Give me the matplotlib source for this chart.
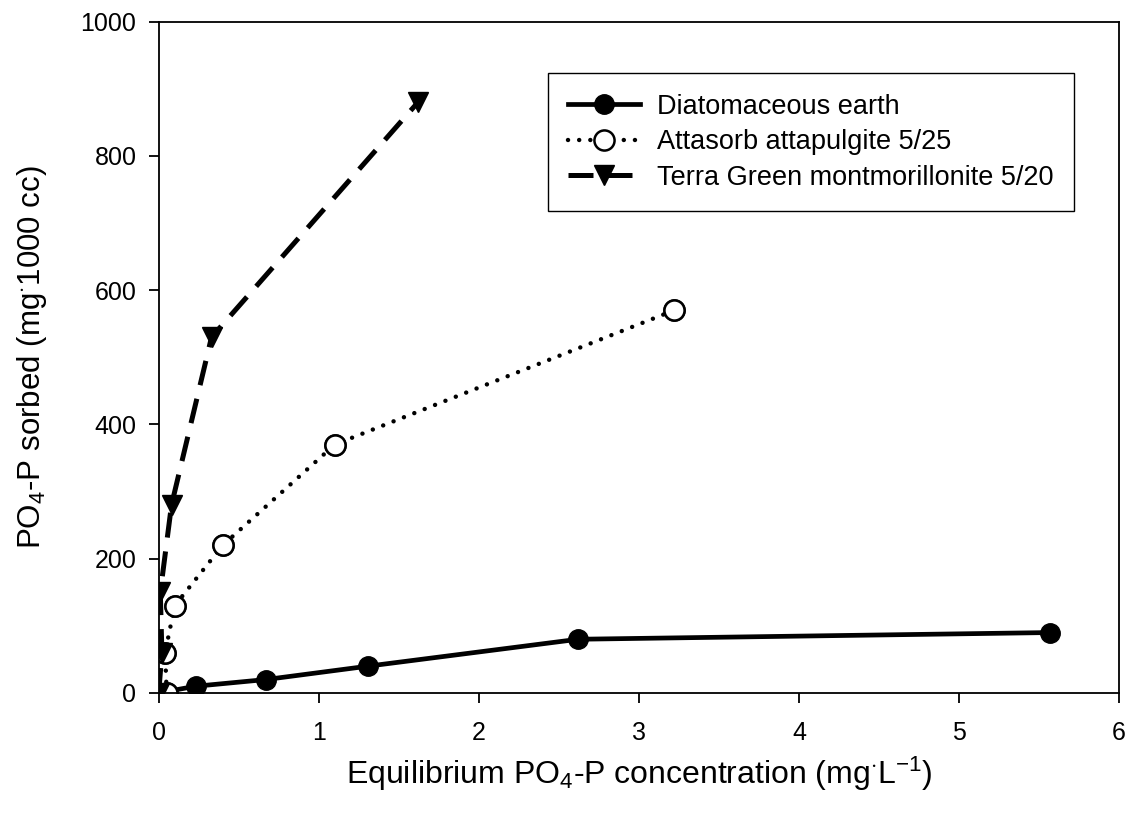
import matplotlib
matplotlib.use('Agg')
import matplotlib.pyplot as plt

plt.rcParams['font.family'] = ['Liberation Sans', 'DejaVu Sans']
plt.rcParams['mathtext.fontset'] = 'custom'
plt.rcParams['mathtext.rm'] = 'Liberation Sans'
plt.rcParams['mathtext.it'] = 'Liberation Sans:italic'

# equilibrium concentration (mg/L) vs P sorbed (mg/1000 cc)
diatom_x = [0.0, 0.23, 0.67, 1.31, 2.62, 5.57]
diatom_y = [0, 10, 20, 40, 80, 90]

attasorb_x = [0.05, 0.04, 0.10, 0.40, 1.10, 3.22]
attasorb_y = [0, 60, 130, 220, 370, 570]

terra_x = [0.0, 0.02, 0.01, 0.08, 0.33, 1.62]
terra_y = [0, 60, 150, 280, 530, 880]

labels = ['Diatomaceous earth', 'Attasorb attapulgite 5/25',
          'Terra Green montmorillonite 5/20']
xticks = [0, 1, 2, 3, 4, 5, 6]
yticks = [0, 200, 400, 600, 800, 1000]

fig = plt.figure(figsize=(11.36, 8.14), dpi=100)
ax = fig.add_axes([0.1397, 0.1487, 0.8455, 0.8247])

ax.plot(diatom_x, diatom_y, '-', color='black', lw=3.4, marker='o',
        ms=14, mfc='black', mec='black', label=labels[0])
ax.plot(attasorb_x, attasorb_y, color='black', lw=3.2, dashes=(0.01, 2.5),
        dash_capstyle='round', marker='o', ms=14.5, mfc='white', mec='black',
        mew=1.8, label=labels[1])
ax.plot(attasorb_x, attasorb_y, 'o', ms=14.5, mfc='white', mec='black', mew=1.8)
ax.plot(terra_x, terra_y, color='black', lw=3.6, dashes=(5, 2.8),
        marker='v', ms=15, mfc='black', mec='black', label=labels[2])

ax.set_xlim(0, 6)
ax.set_ylim(0, 1000)
ax.set_xticks(xticks)
ax.set_yticks(yticks)
ax.tick_params(direction='out', length=7, width=1.3, labelsize=18, pad=9)
ax.tick_params(axis='x', pad=13)
for s in ax.spines.values():
    s.set_linewidth(1.3)

ax.set_xlabel(r'Equilibrium PO$_4$-P concentration (mg$^{\cdot}$L$^{-1}$)',
              fontsize=23, labelpad=7)
ax.set_ylabel(r'PO$_4$-P sorbed (mg$^{\cdot}$1000 cc)', fontsize=22.5, labelpad=23)

leg = ax.legend(loc='upper right', bbox_to_anchor=(0.953, 0.923), fontsize=19.5,
                frameon=True, fancybox=False, handlelength=2.65, handletextpad=0.65,
                borderpad=0.75, labelspacing=0.35, borderaxespad=0)
leg.get_frame().set_edgecolor('black')
leg.get_frame().set_linewidth(1.0)
leg.get_frame().set_alpha(1)

fig.savefig('out.png', dpi=100)
